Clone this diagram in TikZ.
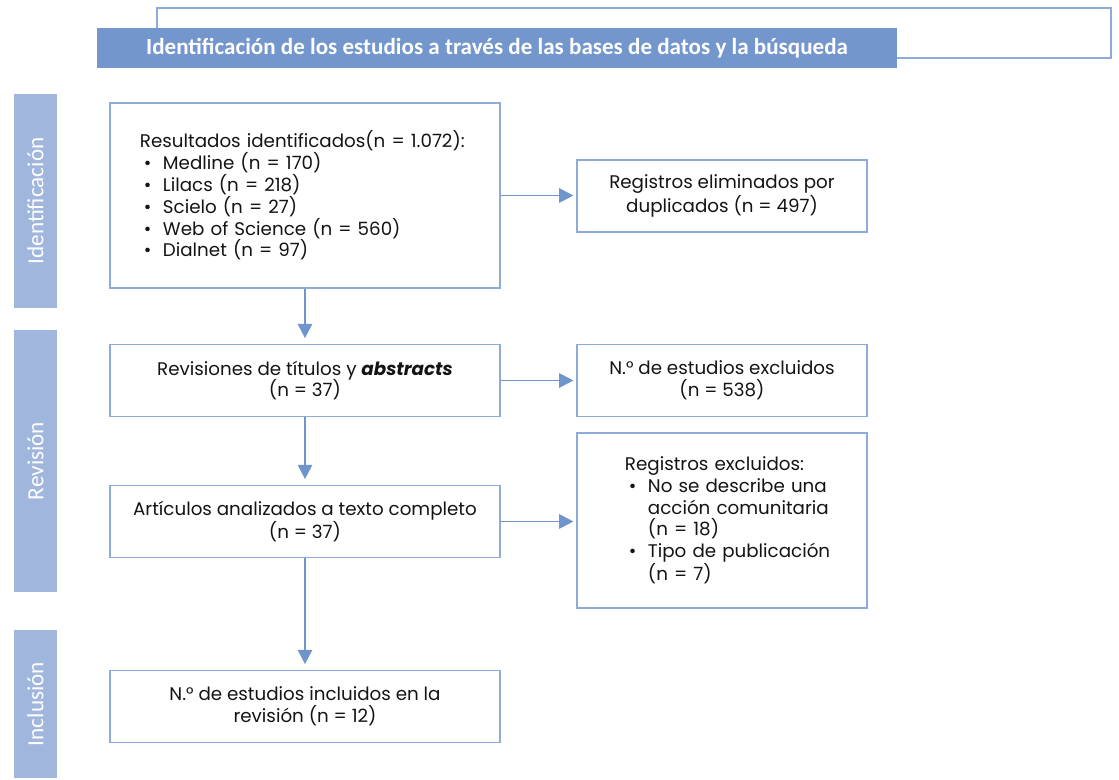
\documentclass[tikz,border=0pt]{standalone}
\usepackage{fontspec}
\setmainfont{Poppins}
\newfontfamily\calfont{Carlito}
\usepackage{xcolor}
\usetikzlibrary{arrows.meta}
\definecolor{PRBox}{HTML}{8FAADC}
\definecolor{PRArrow}{HTML}{7094CC}
\definecolor{PRHead}{HTML}{7397CC}
\definecolor{PRSide}{HTML}{A0B6DD}
\definecolor{PRText}{HTML}{141414}

\tikzset{
  prbox/.style={draw=PRBox,line width=1pt,fill=white,text=PRText,font=\fontsize{13}{15.5}\selectfont},
  sidebar/.style={fill=PRSide,text=white,rotate=90,font=\calfont\fontsize{16.5}{18}\selectfont,inner sep=0pt},
  flowarrow/.style={draw=PRArrow,line width=1.4pt,-{Triangle[length=0.36cm,width=0.36cm]}}
}
\newcommand{\itm}{\hspace*{0.1cm}\makebox[0.475cm][l]{\textbullet}}
\newcommand{\cont}{\hspace*{0.575cm}}
\newcommand{\lead}{\hspace*{0.6cm}}

\begin{document}
\begin{tikzpicture}[x=0.025cm,y=-0.025cm]
\path[use as bounding box] (0,0) rectangle (1119,780);
% header
\draw[PRBox,line width=1pt] (157,8) rectangle (1111,58);
\node[fill=PRHead,text=white,minimum width=20cm,minimum height=1cm,font=\calfont\bfseries\fontsize{16.4}{18}\selectfont] (head) at (497,48) {Identificación de los estudios a través de las bases de datos y la búsqueda};
% phases
\node[sidebar,minimum width=5.35cm,minimum height=1.075cm] (sideid) at (35.5,201) {Identificación};
\node[sidebar,minimum width=6.55cm,minimum height=1.075cm] (siderev) at (35.5,461) {Revisión};
\node[sidebar,minimum width=3.7cm,minimum height=1.075cm] (sideinc) at (35.5,704) {Inclusión};
% left column
\node[prbox,minimum width=9.75cm,minimum height=4.625cm,text width=8.25cm,inner xsep=0.75cm,align=left] (idbox) at (305,195.5) {Resultados identificados(n = 1.072):\\
\itm Medline (n = 170)\\
\itm Lilacs (n = 218)\\
\itm Scielo (n = 27)\\
\itm Web of Science (n = 560)\\
\itm Dialnet (n = 97)};
\node[prbox,minimum width=9.75cm,minimum height=1.8cm,align=center] (revbox) at (305,380.5) {Revisiones de títulos y \textbf{\textit{abstracts}}\\(n = 37)};
\node[prbox,minimum width=9.75cm,minimum height=1.8cm,align=center] (fullbox) at (305,521.5) {Artículos analizados a texto completo\\(n = 37)};
\node[prbox,minimum width=9.75cm,minimum height=1.8cm,align=center] (incbox) at (305,706.5) {N.° de estudios incluidos en la\\revisión (n = 12)};
% right column
\node[prbox,minimum width=7.25cm,minimum height=1.8cm,align=center] (dupbox) at (722,196) {Registros eliminados por\\duplicados (n = 497)};
\node[prbox,minimum width=7.25cm,minimum height=1.8cm,align=center] (exbox) at (722,380.5) {N.° de estudios excluidos\\(n = 538)};
\node[prbox,minimum width=7.25cm,minimum height=4.375cm,text width=6.05cm,inner xsep=0.6cm,align=left] (exbox2) at (722,520.5) {\lead Registros excluidos:\\
\lead\itm No se describe una\\
\lead\cont acción comunitaria\\
\lead\cont (n = 18)\\
\lead\itm Tipo de publicación\\
\lead\cont (n = 7)};
% arrows
\draw[flowarrow,shorten >=4pt] (idbox.south) -- (revbox.north);
\draw[flowarrow,shorten >=4pt] (revbox.south) -- (fullbox.north);
\draw[flowarrow,shorten >=4pt] (fullbox.south) -- (incbox.north);
\draw[flowarrow,shorten >=2pt] (idbox.east) -- (idbox.east -| dupbox.west);
\draw[flowarrow,shorten >=2pt] (revbox.east) -- (revbox.east -| exbox.west);
\draw[flowarrow,shorten >=2pt] (fullbox.east) -- (fullbox.east -| exbox2.west);
\end{tikzpicture}
\end{document}
